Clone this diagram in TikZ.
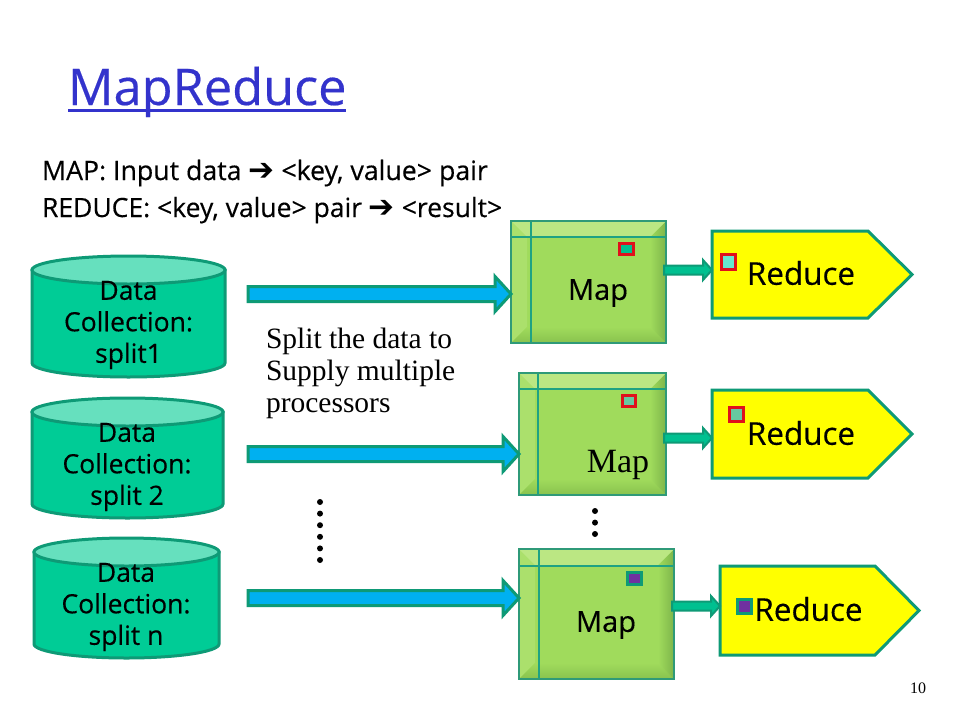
\documentclass[tikz,border=0pt]{standalone}
\usepackage{fontspec}
\setmainfont{Open Sans}
\newfontfamily\comicfont{Open Sans}[FakeBold=0.35]
\newfontfamily\serifbody{Liberation Serif}
\newfontfamily\symbolfont{DejaVu Sans}
\usetikzlibrary{calc}
\definecolor{tealline}{HTML}{0E9A76}
\definecolor{blockface}{HTML}{A0DB5C}
\definecolor{blocktop}{HTML}{BBE783}
\definecolor{blockleft}{HTML}{ABE06C}
\definecolor{blockright}{HTML}{7DB54A}
\definecolor{blockbottom}{HTML}{88C24E}
\definecolor{blockedge}{HTML}{2F9A78}
\definecolor{blockrule}{HTML}{1EA283}
\definecolor{cylbody}{HTML}{00CC96}
\definecolor{cyltop}{HTML}{66E0BE}
\definecolor{arrowblue}{HTML}{00B0F0}
\definecolor{arrowgreen}{HTML}{00C090}
\definecolor{markred}{HTML}{E0101C}
\definecolor{markpurple}{HTML}{7030A0}
\definecolor{titleblue}{HTML}{3333CC}
\definecolor{reduceyellow}{HTML}{FFFF00}
\definecolor{markpale}{HTML}{66E8CF}
\definecolor{markmid}{HTML}{66C9A0}
\newcommand{\bigarrow}{{\symbolfont\fontsize{31}{30}\selectfont ➔}}
\tikzset{
  every node/.style={inner sep=0pt,outer sep=0pt},
  cylline/.style={draw=tealline,line width=3pt},
  comic/.style={font=\comicfont\fontsize{26.5}{31.5}\selectfont,align=center,text=black},
  bluearrow/.style={draw=tealline,line width=3pt,fill=arrowblue,line join=miter},
  greenarrow/.style={draw=tealline,line width=2pt,fill=arrowgreen,line join=miter},
  reduceshape/.style={draw=tealline,line width=3pt,fill=reduceyellow,line join=miter},
  redmark/.style={draw=markred,line width=3pt},
  tealmark/.style={draw=tealline,line width=3pt,fill=markpurple},
  dotmark/.style={fill=black,circle,minimum size=6pt},
  reducetext/.style={font=\comicfont\fontsize{31.4}{36}\selectfont,text=black},
  maptext/.style={font=\comicfont\fontsize{29}{36}\selectfont,text=black},
}
% name, centre, width, height
\newcommand{\datacyl}[4]{%
  \node[rectangle,minimum width=#3pt,minimum height=#4pt] (#1) at (#2) {};
  \draw[cylline,fill=cylbody] ($(#1.north west)+(0,14)$) -- ($(#1.south west)+(0,-14)$)
     arc[start angle=180,end angle=0,x radius=#3/2,y radius=14] -- ($(#1.north east)+(0,14)$) -- cycle;
  \draw[cylline,fill=cyltop] ($(#1.north)+(0,14)$) ellipse[x radius=#3/2,y radius=14];
}
% name, centre, width, height, vertical rule offset, horizontal rule offset
\newcommand{\mapblock}[6]{%
  \node[rectangle,minimum width=#3pt,minimum height=#4pt] (#1) at (#2) {};
  \fill[blockface] (#1.north west) rectangle (#1.south east);
  \fill[blockleft] (#1.north west) -- ++(16,16) -- ($(#1.south west)+(16,-16)$) -- (#1.south west) -- cycle;
  \shade[top color=blockface,bottom color=blockbottom] (#1.south west) -- ++(16,-16) -- ($(#1.south east)+(-16,-16)$) -- (#1.south east) -- cycle;
  \shade[left color=blockface,right color=blockright] (#1.north east) -- ++(-16,16) -- ($(#1.south east)+(-16,-16)$) -- (#1.south east) -- cycle;
  \fill[blocktop] (#1.north west) -- ++(16,16) -- ($(#1.north east)+(-16,16)$) -- (#1.north east) -- cycle;
  \draw[blockrule,line width=2pt] ($(#1.north west)+(#5,0)$) -- ($(#1.south west)+(#5,0)$);
  \draw[blockrule,line width=2pt] ($(#1.north west)+(0,#6)$) -- ($(#1.north east)+(0,#6)$);
  \draw[blockedge,line width=2pt] (#1.north west) rectangle (#1.south east);
}
% name, centre, width, height
\newcommand{\reduceblock}[4]{%
  \node[rectangle,minimum width=#3pt,minimum height=#4pt] (#1) at (#2) {};
  \draw[reduceshape] (#1.north west) -- ($(#1.north east)+(-44,0)$) -- (#1.east) -- ($(#1.south east)+(-44,0)$) -- (#1.south west) -- cycle;
}
% style, tail, tip, half shaft, head length, half head
\newcommand{\blockarrow}[6]{%
  \draw[#1] ($(#2)+(0,-#4)$) -- ($(#3)+(-#5,-#4)$) -- ($(#3)+(-#5,-#6)$) -- (#3) -- ($(#3)+(-#5,#6)$) -- ($(#3)+(-#5,#4)$) -- ($(#2)+(0,#4)$) -- cycle;
}
\begin{document}
\begin{tikzpicture}[x=1pt,y=-1pt]
\useasboundingbox (0,0) rectangle (960,720);
\fill[white] (0,0) rectangle (960,720);

\node[anchor=base west,text=titleblue,font=\comicfont\fontsize{50.5}{60}\selectfont] (title) at (68,105) {MapReduce};
\draw[titleblue,line width=3pt] (title.base west |- 0,110) -- (title.base east |- 0,110);

\node[anchor=base west,font=\comicfont\fontsize{26.7}{30}\selectfont] (mapline) at (42,180) {MAP: Input data \bigarrow{} <key, value> pair};
\node[anchor=base west,font=\comicfont\fontsize{26.5}{30}\selectfont] (redline) at (42,217) {REDUCE: <key, value> pair \bigarrow{} <result>};

% data collections
\datacyl{c1}{128.5,316.5}{193}{121}
\datacyl{c2}{127.5,458}{191}{120}
\datacyl{c3}{126.5,598}{185}{120}
\node[comic] (c1t) at (128.5,325) {Data\\Collection:\\split1};
\node[comic] (c2t) at (127,467) {Data\\Collection:\\split 2};
\node[comic] (c3t) at (126,607) {Data\\Collection:\\split n};

% map blocks
\mapblock{m1}{588.5,282}{155}{122}{20}{16}
\mapblock{m2}{592.5,434}{147}{122}{19}{16}
\mapblock{m3}{596.5,614}{155}{130}{20}{17}
\node[maptext] (m1t) at (598,293) {Map};
\node[font=\serifbody\fontsize{34}{38}\selectfont] (m2t) at (618,465) {Map};
\node[maptext] (m3t) at (606,625) {Map};

% reduce blocks
\reduceblock{r1}{812,274.5}{200}{87}
\reduceblock{r2}{812,434}{200}{88}
\reduceblock{r3}{819.5,610.5}{199}{89}
\node[reducetext] (r1t) at (801,273) {Reduce};
\node[reducetext] (r2t) at (801,433) {Reduce};
\node[reducetext] (r3t) at (808.5,609) {Reduce};

% connectors
\coordinate (b1) at (248,294);
\coordinate (b2) at (248,454);
\coordinate (b3) at (248,598);
\blockarrow{bluearrow}{b1}{m1.west |- b1}{7.5}{16}{17.5}
\blockarrow{bluearrow}{b2}{m2.west |- b2}{7.5}{16}{17.5}
\blockarrow{bluearrow}{b3}{m3.west |- b3}{7.5}{16}{17.5}
\coordinate (g1) at (664,270);
\coordinate (g2) at (664,438);
\coordinate (g3) at (672,606);
\blockarrow{greenarrow}{g1}{r1.west |- g1}{4.5}{9}{10}
\blockarrow{greenarrow}{g2}{r2.west |- g2}{4.5}{9}{10}
\blockarrow{greenarrow}{g3}{r3.west |- g3}{4.5}{9}{10}

% small markers
\node[rectangle,redmark,fill=arrowgreen,minimum width=14pt,minimum height=11pt] (k1) at (626.5,249) {};
\node[rectangle,redmark,fill=markpale,minimum width=14pt,minimum height=15pt] (k2) at (728.5,262) {};
\node[rectangle,redmark,fill=markmid,minimum width=13pt,minimum height=11pt] (k3) at (629,401) {};
\node[rectangle,redmark,fill=markmid,minimum width=14pt,minimum height=14pt] (k4) at (736.5,414.5) {};
\node[rectangle,tealmark,minimum width=14pt,minimum height=12pt] (k5) at (634.5,578.5) {};
\node[rectangle,tealmark,minimum width=14pt,minimum height=14pt] (k6) at (744.5,606.5) {};

% free text
\node[anchor=north west,align=left,font=\serifbody\fontsize{29.5}{32}\selectfont] (split) at (266,328) {Split the data to\\Supply multiple\\processors};
\node[font=\serifbody\fontsize{16}{18}\selectfont] (page) at (918,688) {10};

% ellipsis dots
\foreach \i/\yy in {1/502,2/513.6,3/525.2,4/536.8,5/548.4,6/560} \node[dotmark] (da\i) at (320,\yy) {};
\foreach \i/\yy in {1/511,2/522.6,3/534} \node[dotmark] (db\i) at (595,\yy) {};
\end{tikzpicture}
\end{document}
